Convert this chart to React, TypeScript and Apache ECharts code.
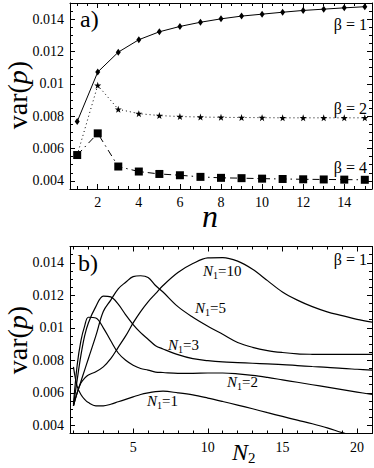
import React, { useEffect, useRef } from "react";
import * as echarts from "echarts";

// ---------- panel a) ----------
const nValues = [1, 2, 3, 4, 5, 6, 7, 8, 9, 10, 11, 12, 13, 14, 15];
const beta1 = [0.00767, 0.01073, 0.01196, 0.01273, 0.01322, 0.01355, 0.01381, 0.01402, 0.01419, 0.01431, 0.01443, 0.01454, 0.01462, 0.0147, 0.01477];
const beta2 = [0.0056, 0.00991, 0.00843, 0.00816, 0.00804, 0.00798, 0.00795, 0.00793, 0.00792, 0.00791, 0.0079, 0.0079, 0.0079, 0.0079, 0.0079];
const beta4 = [0.0056, 0.00694, 0.00489, 0.00458, 0.00443, 0.00435, 0.00425, 0.00419, 0.00417, 0.00414, 0.00412, 0.0041, 0.00409, 0.00408, 0.00407];

// ---------- panel b) ----------
const n2Values = [1, 1.25, 1.5, 1.75, 2, 2.5, 3, 3.5, 4, 4.5, 5, 5.5, 6, 6.5, 7, 8, 9, 10, 11, 12, 13, 14, 15, 16, 17, 18, 19, 20, 21];
const n1is1 = [0.0076, 0.0064, 0.0059, 0.0056, 0.0054, 0.0052, 0.0052, 0.0053, 0.00545, 0.0056, 0.00575, 0.0059, 0.006, 0.00607, 0.0061, 0.006, 0.00587, 0.00568, 0.00547, 0.00525, 0.00502, 0.00478, 0.00455, 0.00432, 0.0041, 0.00385, 0.00355, 0.0033, 0.0031];
const n1is2 = [0.0053, 0.0077, 0.0092, 0.0101, 0.01065, 0.0106, 0.01, 0.0092, 0.00845, 0.008, 0.0077, 0.0075, 0.0074, 0.00728, 0.00725, 0.0072, 0.0072, 0.00722, 0.00722, 0.00717, 0.00708, 0.00695, 0.0068, 0.00665, 0.0065, 0.00635, 0.0062, 0.00605, 0.0059];
const n1is3 = [0.0052, 0.0068, 0.0083, 0.0095, 0.0103, 0.0113, 0.01195, 0.0119, 0.01145, 0.0108, 0.0102, 0.0097, 0.0093, 0.0089, 0.0087, 0.00835, 0.0081, 0.00798, 0.0079, 0.00786, 0.00782, 0.00778, 0.00774, 0.00768, 0.00762, 0.00757, 0.0075, 0.00745, 0.0074];
const n1is5 = [0.0052, 0.006, 0.0067, 0.0074, 0.0081, 0.0095, 0.011, 0.0117, 0.0124, 0.0128, 0.01315, 0.0132, 0.0131, 0.0126, 0.0122, 0.0113, 0.01065, 0.0101, 0.0096, 0.0091, 0.0088, 0.0086, 0.00848, 0.0084, 0.00837, 0.00836, 0.00836, 0.00836, 0.00836];
const n1is10 = [0.0052, 0.006, 0.0066, 0.0069, 0.0071, 0.0073, 0.0076, 0.0081, 0.0088, 0.0095, 0.0103, 0.011, 0.0116, 0.0121, 0.0126, 0.0134, 0.01395, 0.0143, 0.01432, 0.0141, 0.0136, 0.0129, 0.0122, 0.0117, 0.0113, 0.01098, 0.01075, 0.01052, 0.01035];

// ---------- ticks ----------
const yMajorTicks = [0.004, 0.006, 0.008, 0.01, 0.012, 0.014];
const xMajorTicksA = [2, 4, 6, 8, 10, 12, 14];
const xMajorTicksB = [5, 10, 15, 20];
const yMinorStep = 0.0005;
const xMinorStepA = 0.5;
const xMinorStepB = 1;

const FONT = "Liberation Serif";

function stepTicks(from: number, to: number, step: number): number[] {
  const out: number[] = [];
  for (let k = 0; from + k * step <= to + 1e-9; k++) out.push(+(from + k * step).toFixed(6));
  return out;
}

function pairs(xs: number[], ys: number[]) {
  return xs.map((x, i) => [x, ys[i]]);
}

function xAxesFor(grid: number, min: number, max: number, majors: number[], minors: number[], labelMargin: number) {
  const base = { type: "value", gridIndex: grid, min, max, splitLine: { show: false } };
  const line = { show: true, lineStyle: { color: "#000", width: 1 } };
  return [
    {
      ...base,
      position: "bottom",
      axisLine: line,
      axisTick: { show: true, inside: true, length: 5, customValues: majors, lineStyle: { color: "#000" } },
      axisLabel: { show: true, customValues: majors, margin: labelMargin, color: "#000", fontSize: 14, fontFamily: FONT, formatter: (v: number) => String(v) },
    },
    {
      ...base,
      position: "bottom",
      axisLine: { show: false },
      axisTick: { show: true, inside: true, length: 3, customValues: minors, lineStyle: { color: "#000" } },
      axisLabel: { show: false },
    },
    {
      ...base,
      position: "top",
      axisLine: line,
      axisTick: { show: true, inside: true, length: 5, customValues: majors, lineStyle: { color: "#000" } },
      axisLabel: { show: false },
    },
    {
      ...base,
      position: "top",
      axisLine: { show: false },
      axisTick: { show: true, inside: true, length: 3, customValues: minors, lineStyle: { color: "#000" } },
      axisLabel: { show: false },
    },
  ];
}

function yAxesFor(grid: number, min: number, max: number, majors: number[], minors: number[]) {
  const base = { type: "value", gridIndex: grid, min, max, splitLine: { show: false } };
  const line = { show: true, lineStyle: { color: "#000", width: 1 } };
  return [
    {
      ...base,
      position: "left",
      axisLine: line,
      axisTick: { show: true, inside: true, length: 5, customValues: majors, lineStyle: { color: "#000" } },
      axisLabel: { show: true, customValues: majors, margin: 6, color: "#000", fontSize: 14, fontFamily: FONT, formatter: (v: number) => String(v) },
    },
    {
      ...base,
      position: "left",
      axisLine: { show: false },
      axisTick: { show: true, inside: true, length: 3, customValues: minors, lineStyle: { color: "#000" } },
      axisLabel: { show: false },
    },
    {
      ...base,
      position: "right",
      axisLine: line,
      axisTick: { show: true, inside: true, length: 5, customValues: majors, lineStyle: { color: "#000" } },
      axisLabel: { show: false },
    },
    {
      ...base,
      position: "right",
      axisLine: { show: false },
      axisTick: { show: true, inside: true, length: 3, customValues: minors, lineStyle: { color: "#000" } },
      axisLabel: { show: false },
    },
  ];
}

const STAR = "path://M0,-10L2.35,-3.24L9.51,-3.09L3.8,1.24L5.88,8.09L0,4L-5.88,8.09L-3.8,1.24L-9.51,-3.09L-2.35,-3.24Z";

function nLabel(left: number, y: number, sub: string, rest: string) {
  return {
    type: "text",
    left,
    top: y - 10,
    style: {
      text: `{i|N}{s|${sub}}{r|${rest}}`,
      fill: "#000",
      rich: {
        i: { fontFamily: FONT, fontStyle: "italic", fontSize: 15, lineHeight: 20, fill: "#000" },
        s: { fontFamily: FONT, fontSize: 10, lineHeight: 12, verticalAlign: "bottom", fill: "#000" },
        r: { fontFamily: FONT, fontSize: 15, lineHeight: 20, fill: "#000" },
      },
    },
  };
}

function plainText(x: number, y: number, text: string, size: number, align: string, italic = false) {
  return {
    type: "text",
    x,
    y,
    style: {
      text,
      fill: "#000",
      fontFamily: FONT,
      fontSize: size,
      fontStyle: italic ? "italic" : "normal",
      textAlign: align,
      textVerticalAlign: "middle",
    },
  };
}

function varLabel(cy: number) {
  return {
    type: "text",
    x: 17,
    y: cy,
    rotation: Math.PI / 2,
    style: {
      text: "{r|var(}{i|p}{r|)}",
      fill: "#000",
      textAlign: "center",
      textVerticalAlign: "middle",
      rich: {
        r: { fontFamily: FONT, fontSize: 28, fill: "#000" },
        i: { fontFamily: FONT, fontSize: 28, fontStyle: "italic", fill: "#000" },
      },
    },
  };
}

export default function App() {
  const ref = useRef<HTMLDivElement>(null);
  useEffect(() => {
    if (!ref.current) return;
    const chart = echarts.init(ref.current, null, { renderer: "svg" });
    const yMinA = 0.0035, yMaxA = 0.015;
    const yMinors = stepTicks(yMinA, yMaxA, yMinorStep);
    const xMinA = 0.65, xMaxA = 15.35;
    const xMinB = 0.77, xMaxB = 21;
    const xAxis = [
      ...xAxesFor(0, xMinA, xMaxA, xMajorTicksA, stepTicks(1, 15, xMinorStepA), 6),
      ...xAxesFor(1, xMinB, xMaxB, xMajorTicksB, stepTicks(1, 21, xMinorStepB), 7),
    ];
    const yAxis = [
      ...yAxesFor(0, yMinA, yMaxA, yMajorTicks, yMinors),
      ...yAxesFor(1, yMinA, yMaxA, yMajorTicks, yMinors),
    ];
    const bLine = (data: number[]) => ({
      type: "line",
      xAxisIndex: 4,
      yAxisIndex: 4,
      data: pairs(n2Values, data),
      smooth: 0.35,
      showSymbol: false,
      clip: true,
      lineStyle: { color: "#000", width: 1.2 },
    });
    chart.setOption({
      animation: false,
      backgroundColor: "#fff",
      textStyle: { fontFamily: FONT },
      grid: [
        { left: 70, right: 2, top: 3, height: 186 },
        { left: 70, right: 2, top: 246.5, height: 187 },
      ],
      xAxis,
      yAxis,
      series: [
        {
          type: "line",
          xAxisIndex: 0,
          yAxisIndex: 0,
          data: pairs(nValues, beta1),
          symbol: "diamond",
          symbolSize: [5, 7],
          itemStyle: { color: "#000" },
          lineStyle: { color: "#000", width: 1, type: "solid" },
        },
        {
          type: "line",
          xAxisIndex: 0,
          yAxisIndex: 0,
          data: pairs(nValues, beta2),
          symbol: STAR,
          symbolSize: 7,
          itemStyle: { color: "#000" },
          lineStyle: { color: "#000", width: 1, type: [1, 3] },
        },
        {
          type: "line",
          xAxisIndex: 0,
          yAxisIndex: 0,
          data: pairs(nValues, beta4),
          symbol: "rect",
          symbolSize: 8,
          itemStyle: { color: "#000" },
          lineStyle: { color: "#000", width: 1, type: [7, 4, 1.5, 4] },
        },
        bLine(n1is1),
        bLine(n1is2),
        bLine(n1is3),
        bLine(n1is5),
        bLine(n1is10),
      ],
      graphic: [
        plainText(80, 19, "a)", 24, "left"),
        plainText(78, 263, "b)", 24, "left"),
        plainText(367, 24, "β = 1", 16, "right"),
        plainText(367, 108, "β = 2", 16, "right"),
        plainText(367, 167, "β = 4", 16, "right"),
        plainText(367, 259, "β = 1", 16, "right"),
        plainText(210, 216, "n", 32, "center", true),
        varLabel(95),
        varLabel(340),
        {
          type: "text",
          left: 232,
          top: 440,
          style: {
            text: "{i|N}{s|2}",
            fill: "#000",
            rich: {
              i: { fontFamily: FONT, fontStyle: "italic", fontSize: 24, lineHeight: 26, fill: "#000" },
              s: { fontFamily: FONT, fontSize: 15, lineHeight: 16, verticalAlign: "bottom", fill: "#000" },
            },
          },
        },
        nLabel(203, 273, "1", "=10"),
        nLabel(195, 310, "1", "=5"),
        nLabel(168, 347, "1", "=3"),
        nLabel(227, 384, "1", "=2"),
        nLabel(147, 403, "1", "=1"),
      ],
    });
    return () => chart.dispose();
  }, []);
  return <div ref={ref} style={{ position: "absolute", left: 0, top: 0, width: 374, height: 468 }} />;
}
